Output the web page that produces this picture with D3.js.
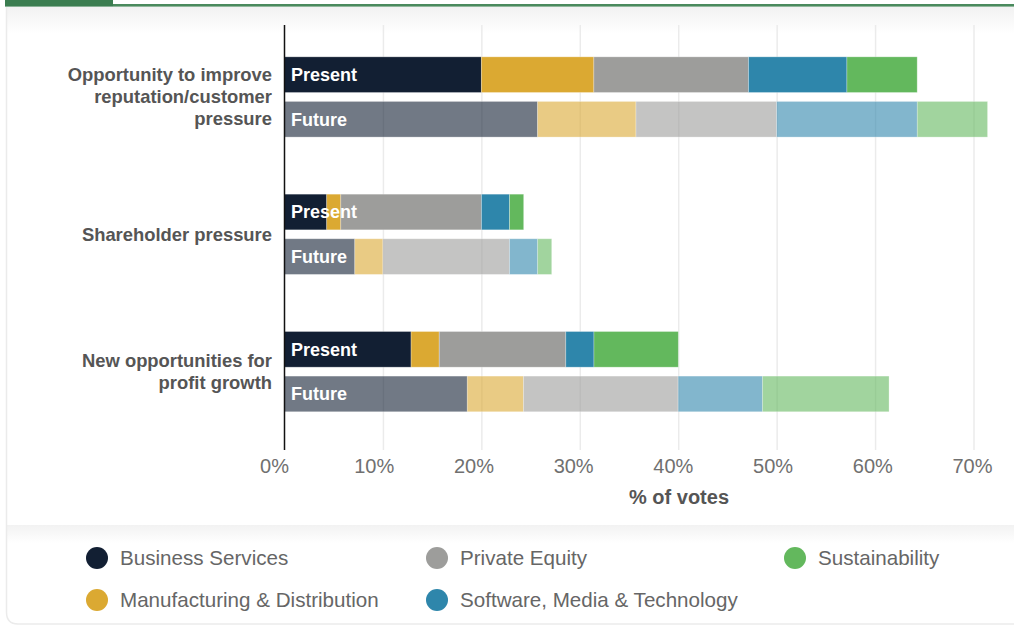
<!DOCTYPE html>
<html>
<head>
<meta charset="utf-8">
<script src="https://cdn.jsdelivr.net/npm/d3@7"></script>
<style>
  html, body { margin: 0; padding: 0; background: #ffffff; }
  svg { display: block; font-family: "Liberation Sans", Arial, Helvetica, sans-serif; }
</style>
</head>
<body>
<svg id="chart" width="1014" height="625"></svg>
<script>
// Drivers (rows of the chart) and their wrapped label lines
const drivers = ["Opportunity to improve reputation/customer pressure", "Shareholder pressure", "New opportunities for profit growth"];
const driverLines = [["Opportunity to improve", "reputation/customer", "pressure"], ["Shareholder pressure"], ["New opportunities for", "profit growth"]];
const horizons = ["Present", "Future"];

// Sectors, stacked left to right
const sectors = ["Business Services", "Manufacturing & Distribution", "Private Equity", "Software, Media & Technology", "Sustainability"];
const sectorColors = ["#121f33", "#dba932", "#9d9d9b", "#2e86ab", "#63b85d"];

// % of votes per driver, as [present, future]
const businessServices = [[20.00, 25.71], [4.29, 7.14], [12.86, 18.57]];
const manufacturing    = [[11.43, 10.00], [1.43, 2.86], [2.86, 5.71]];
const privateEquity    = [[15.71, 14.29], [14.29, 12.86], [12.86, 15.71]];
const softwareMedia    = [[10.00, 14.29], [2.86, 2.86], [2.86, 8.57]];
const sustainability   = [[7.14, 7.14], [1.43, 1.43], [8.57, 12.86]];

const tickValues = [0, 10, 20, 30, 40, 50, 60, 70];
const axisTitle = "% of votes";

const sectorSeries = [businessServices, manufacturing, privateEquity, softwareMedia, sustainability];

// One row per driver/horizon pair
const rows = [];
drivers.forEach((d, i) => {
  horizons.forEach((h, j) => {
    const row = { driver: d, horizon: h };
    sectors.forEach((s, k) => { row[s] = sectorSeries[k][i][j]; });
    rows.push(row);
  });
});

const svg = d3.select("#chart");

// ---- card background ----
const defs = svg.append("defs");
const topShade = defs.append("linearGradient").attr("id", "topShade").attr("x1", 0).attr("y1", 0).attr("x2", 0).attr("y2", 1);
topShade.append("stop").attr("offset", "0%").attr("stop-color", "#f2f2f2");
topShade.append("stop").attr("offset", "100%").attr("stop-color", "#ffffff");

svg.append("rect").attr("x", 7).attr("y", 7).attr("width", 1007).attr("height", 26).attr("fill", "url(#topShade)");
svg.append("rect").attr("x", 7).attr("y", 525).attr("width", 1007).attr("height", 18).attr("fill", "url(#topShade)");
// left edge of the card with a rounded bottom corner
svg.append("path")
  .attr("d", "M6.5,7 L6.5,612 Q6.5,624 18,624 L1014,624")
  .attr("fill", "none").attr("stroke", "#ebebeb").attr("stroke-width", 1.5);

// green header strip
svg.append("rect").attr("x", 113).attr("y", 4).attr("width", 901).attr("height", 2.6).attr("fill", "#4a8a5d");
svg.append("rect").attr("x", 5).attr("y", 0).attr("width", 108).attr("height", 6.6).attr("fill", "#3b7d50");

// ---- scales ----
const x = d3.scaleLinear().domain([0, 70]).range([284.5, 973.5]);
const xLabel = d3.scaleLinear().domain([0, 70]).range([274, 972]);
const plotTop = 25, plotBottom = 450;

const yOuter = d3.scaleBand().domain(drivers).range([28.3, 440.3]).padding(0);
const yInner = d3.scaleBand().domain(horizons).range([0, yOuter.bandwidth()]).paddingInner(0.2).paddingOuter(0.64);

// ---- grid ----
const grid = svg.append("g").attr("transform", `translate(0,${plotBottom})`)
  .call(d3.axisBottom(x).tickValues(tickValues.slice(1)).tickSize(-(plotBottom - plotTop)).tickFormat(""));
grid.select(".domain").remove();
grid.selectAll(".tick line").attr("stroke", "#ebebeb").attr("stroke-width", 1.5);

// ---- bars ----
const stack = d3.stack().keys(sectors);
const layers = stack(rows);

const barGroup = svg.append("g");
layers.forEach((layer, k) => {
  barGroup.selectAll(null)
    .data(layer)
    .join("rect")
    .attr("x", d => x(d[0]))
    .attr("width", d => x(d[1]) - x(d[0]))
    .attr("y", d => yOuter(d.data.driver) + yInner(d.data.horizon))
    .attr("height", yInner.bandwidth())
    .attr("fill", sectorColors[k])
    .attr("fill-opacity", d => d.data.horizon === "Future" ? 0.6 : 1)
    .attr("stroke", "#ffffff")
    .attr("stroke-opacity", 0.35)
    .attr("stroke-width", 0.8);
});

// horizon labels inside the bars
svg.append("g").selectAll("text")
  .data(rows)
  .join("text")
  .attr("x", x(0) + 6.5)
  .attr("y", d => yOuter(d.driver) + yInner(d.horizon) + yInner.bandwidth() / 2)
  .attr("dy", "0.35em")
  .attr("fill", "#ffffff")
  .attr("font-size", 18)
  .attr("font-weight", "bold")
  .text(d => d.horizon);

// ---- vertical axis line ----
svg.append("line")
  .attr("x1", x(0)).attr("x2", x(0))
  .attr("y1", plotTop).attr("y2", plotBottom)
  .attr("stroke", "#111111").attr("stroke-width", 1.5);

// driver labels
const lineHeight = 22;
drivers.forEach((d, i) => {
  const lines = driverLines[i];
  const cy = yOuter(d) + yOuter.bandwidth() / 2;
  const startY = cy - (lines.length - 1) * lineHeight / 2;
  svg.append("text")
    .attr("text-anchor", "end")
    .attr("fill", "#555555")
    .attr("font-size", 18.4)
    .attr("font-weight", "bold")
    .selectAll("tspan")
    .data(lines)
    .join("tspan")
    .attr("x", 272)
    .attr("y", (l, j) => startY + j * lineHeight)
    .attr("dy", "0.35em")
    .text(l => l);
});

// ---- x axis labels ----
const xAxis = svg.append("g").attr("transform", `translate(0,${plotBottom})`)
  .call(d3.axisBottom(xLabel).tickValues(tickValues).tickSize(0).tickPadding(9).tickFormat(v => v + "%"));
xAxis.select(".domain").remove();
xAxis.selectAll("text")
  .attr("font-size", 20)
  .attr("font-family", "\"Liberation Sans\", Arial, Helvetica, sans-serif")
  .attr("fill", "#707070");

svg.append("text")
  .attr("x", 679).attr("y", 497)
  .attr("dy", "0.35em")
  .attr("text-anchor", "middle")
  .attr("font-size", 20)
  .attr("font-weight", "bold")
  .attr("fill", "#555555")
  .text(axisTitle);

// ---- legend ----
const legendPos = [[97, 558], [97, 600], [437, 558], [437, 600], [795, 558]];
const legendOrder = [0, 1, 2, 3, 4];
const legend = svg.append("g").selectAll("g")
  .data(legendOrder)
  .join("g")
  .attr("transform", k => `translate(${legendPos[k][0]},${legendPos[k][1]})`);
legend.append("circle").attr("r", 11).attr("fill", k => sectorColors[k]);
legend.append("text")
  .attr("x", 23)
  .attr("dy", "0.35em")
  .attr("font-size", 20.6)
  .attr("fill", "#666666")
  .text(k => sectors[k]);
</script>
</body>
</html>
